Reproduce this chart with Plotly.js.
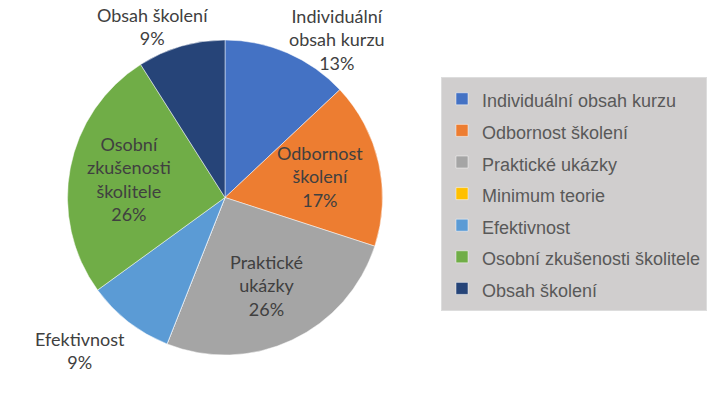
<!DOCTYPE html>
<html><head><meta charset="utf-8">
<script src="https://cdn.plot.ly/plotly-3.0.1.min.js"></script>
<style>html,body{margin:0;padding:0;background:#fff}</style>
</head><body>
<div id="chart" style="width:714px;height:396px"></div>
<script>
// ---- data ----
const categories = ["Individuální obsah kurzu","Odbornost školení","Praktické ukázky","Minimum teorie","Efektivnost","Osobní zkušenosti školitele","Obsah školení"];
const sliceLabels = [["Individuální","obsah kurzu"],["Odbornost","školení"],["Praktické","ukázky"],["Minimum teorie"],["Efektivnost"],["Osobní","zkušenosti","školitele"],["Obsah školení"]];
const values = [13, 17, 26, 0, 9, 26, 9];
const colors = ["#4472C4","#ED7D31","#A5A5A5","#FFC000","#5B9BD5","#70AD47","#264478"];
const labelPlacement = ["outside","inside","inside","none","outside","inside","outside"];

// ---- geometry / style ----
const W = 714, H = 396;
const cx = 225, cy = 197.5, r = 157.5;
const labelFont = {family: "Lato, 'Open Sans', sans-serif", size: 18, color: "#404040"};
const lineH = 24;

const ctx = document.createElement("canvas").getContext("2d");
ctx.font = "18px Lato";
function textW(lines) { return Math.max(...lines.map(l => ctx.measureText(l).width)); }
function shape(t) { const a = Math.min(1, Math.abs(t) / 0.4); return Math.sign(t) * a * a; }

const total = values.reduce((a, b) => a + b, 0);
const annotations = [];
let cum = 0;
values.forEach((v, i) => {
  const start = cum; cum += v;
  if (v <= 0 || labelPlacement[i] === "none") return;
  const mid = (start + v / 2) / total * 2 * Math.PI; // clockwise from 12 o'clock
  const s = Math.sin(mid), c = Math.cos(mid);
  const lines = sliceLabels[i].concat([Math.round(v / total * 100) + "%"]);
  const w = textW(lines), h = lines.length * lineH;
  let px, py;
  if (labelPlacement[i] === "inside") {
    px = cx + 0.62 * r * s; py = cy - 0.62 * r * c;
  } else {
    const ex = cx + (r + 6) * s, ey = cy - (r + 6) * c;
    px = ex + shape(s) * w / 2; py = ey - shape(c) * h / 2;
    py = Math.max(py, h / 2 + 3);
    py = Math.min(py, H - h / 2 - 3);
    px = Math.max(px, w / 2 + 2);
  }
  annotations.push({
    xref: "paper", yref: "paper", x: px / W, y: 1 - py / H,
    xanchor: "center", yanchor: "middle", showarrow: false,
    text: lines.join("<br>"), align: "center", font: labelFont
  });
});

const trace = {
  type: "pie",
  labels: categories.map(cat => '<span style="font-size:18px">' + cat + '</span>'),
  values: values,
  sort: false,
  direction: "clockwise",
  rotation: 0,
  marker: {colors: colors, line: {width: 0.8, color: "rgba(255,255,255,0.6)"}},
  textinfo: "none",
  hoverinfo: "none",
  domain: {x: [(cx - r) / W, (cx + r) / W], y: [1 - (cy + r) / H, 1 - (cy - r) / H]}
};

const layout = {
  width: W, height: H,
  margin: {l: 0, r: 0, t: 0, b: 0},
  paper_bgcolor: "#ffffff",
  showlegend: true,
  annotations: annotations,
  legend: {
    x: 441 / W, y: 1 - 77 / H, xanchor: "left", yanchor: "top",
    maxheight: 300,
    bgcolor: "#D0CECE", bordercolor: "#DDDDDD", borderwidth: 1,
    font: {family: "'Liberation Sans', Arial, sans-serif", size: 22, color: "#595959"},
    traceorder: "normal"
  }
};

Plotly.newPlot("chart", [trace], layout, {displayModeBar: false, staticPlot: true});
</script>
</body></html>
